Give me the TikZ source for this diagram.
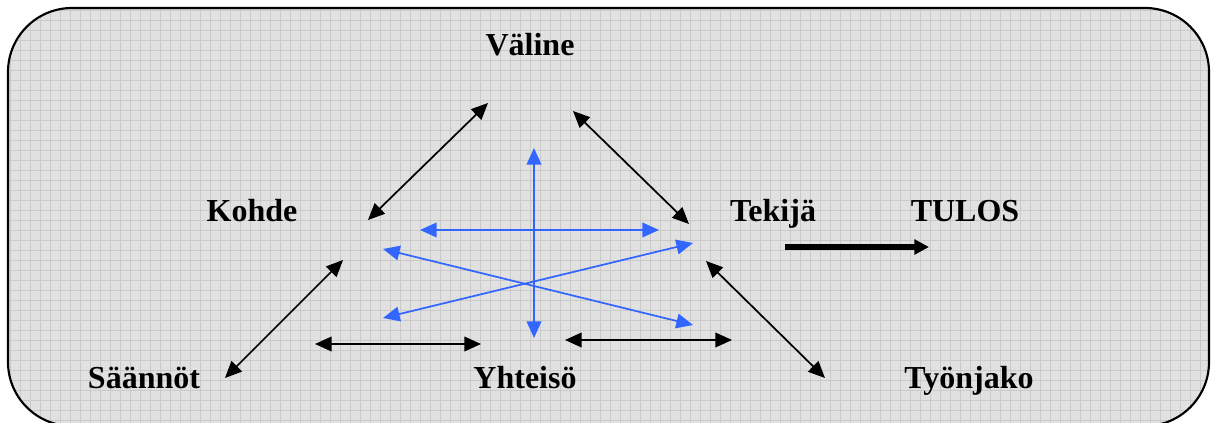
\documentclass[tikz,border=0pt]{standalone}
\usepackage{fontspec}
\setmainfont{Liberation Serif}
\usetikzlibrary{arrows.meta}
\definecolor{bgfill}{HTML}{E1E1E1}
\definecolor{gridc}{HTML}{CACACA}
\definecolor{blueline}{HTML}{3366FF}
\begin{document}
\begin{tikzpicture}[x=0.75pt,y=-0.75pt,
  lbl/.style={font=\fontsize{24}{28}\selectfont\bfseries, inner sep=0pt, anchor=base},
  link/.style={draw=black, line width=1.3pt, {Triangle[length=12.5pt,width=11pt]}-{Triangle[length=12.5pt,width=11pt]}},
  bluelink/.style={draw=blueline, line width=1.3pt, {Triangle[length=12.5pt,width=11pt]}-{Triangle[length=12.5pt,width=11pt]}},
  result/.style={draw=black, line width=4pt, -{Triangle[length=11pt,width=11pt]}}]
\useasboundingbox (0,0) rectangle (1216,423);
\begin{scope}
  \clip[rounded corners=48pt] (8,8) rectangle (1209,426);
  \fill[bgfill] (8,8) rectangle (1209,426);
  \draw[gridc, line width=0.6pt, step=7.5pt] (8,8) grid (1209,426);
\end{scope}
\draw[line width=1.6pt, rounded corners=48pt] (8,8) rectangle (1209,426);

% labels
\node[lbl] (valine) at (530,56) {Väline};
\node[lbl] (kohde) at (252,222) {Kohde};
\node[lbl] (tekija) at (773,222) {Tekijä};
\node[lbl] (tulos) at (965,222) {TULOS};
\node[lbl] (saannot) at (144,389) {Säännöt};
\node[lbl] (yhteiso) at (525,389) {Yhteisö};
\node[lbl] (tyonjako) at (969,389) {Työnjako};

% endpoints
\coordinate (vk1) at (488,103);
\coordinate (vk2) at (368,220);
\coordinate (vt1) at (573,111);
\coordinate (vt2) at (689,224);
\coordinate (ks1) at (343,260);
\coordinate (ks2) at (225,378);
\coordinate (tt1) at (706,261);
\coordinate (tt2) at (825,378);
\coordinate (yl1) at (315,344);
\coordinate (yl2) at (481,344);
\coordinate (yr1) at (565,340);
\coordinate (yr2) at (732,340);
\coordinate (bv1) at (534,148);
\coordinate (bv2) at (534,338);
\coordinate (bh1) at (420,230);
\coordinate (bh2) at (659,230);
\coordinate (bd1) at (383,249);
\coordinate (bd2) at (693,325);
\coordinate (be1) at (383,318);
\coordinate (be2) at (693,243);
\coordinate (r1) at (785,247);
\coordinate (r2) at (929,247);

% black links
\draw[link] (vk1) -- (vk2);
\draw[link] (vt1) -- (vt2);
\draw[link] (ks1) -- (ks2);
\draw[link] (tt1) -- (tt2);
\draw[link] (yl1) -- (yl2);
\draw[link] (yr1) -- (yr2);

% blue links
\draw[bluelink] (bv1) -- (bv2);
\draw[bluelink] (bh1) -- (bh2);
\draw[bluelink] (bd1) -- (bd2);
\draw[bluelink] (be1) -- (be2);

% result arrow
\draw[result] (r1) -- (r2);
\end{tikzpicture}
\end{document}
